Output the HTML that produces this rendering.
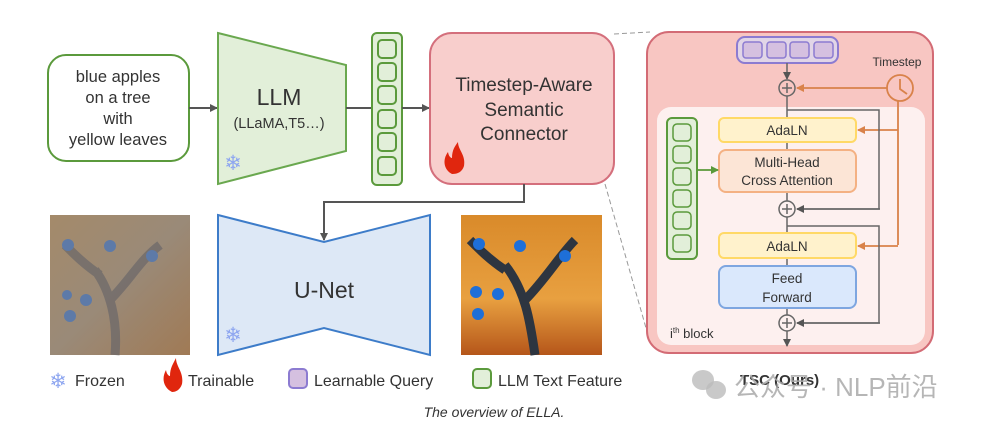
<!DOCTYPE html>
<html><head><meta charset="utf-8"><style>
html,body{margin:0;padding:0;background:#fff;}
svg{display:block;font-family:"Liberation Sans","Noto Sans CJK SC",sans-serif;}
</style></head><body>
<svg width="989" height="429" viewBox="0 0 989 429" xmlns="http://www.w3.org/2000/svg">
<defs>
<marker id="ag" markerWidth="8" markerHeight="8" refX="7" refY="4" orient="auto" markerUnits="userSpaceOnUse"><path d="M0,0 L8,4 L0,8 z" fill="#555"/></marker>
<marker id="ao" markerWidth="8" markerHeight="8" refX="7" refY="4" orient="auto" markerUnits="userSpaceOnUse"><path d="M0,0 L8,4 L0,8 z" fill="#d9824a"/></marker>
<marker id="agr" markerWidth="8" markerHeight="8" refX="7" refY="4" orient="auto" markerUnits="userSpaceOnUse"><path d="M0,0 L8,4 L0,8 z" fill="#5a9a3a"/></marker>
<linearGradient id="noise" x1="0" y1="0" x2="1" y2="1"><stop offset="0" stop-color="#a48a6a"/><stop offset="0.5" stop-color="#9a8a78"/><stop offset="1" stop-color="#a07a55"/></linearGradient>
<linearGradient id="clean" x1="0" y1="0" x2="0" y2="1"><stop offset="0" stop-color="#d98a2a"/><stop offset="0.6" stop-color="#e8a040"/><stop offset="1" stop-color="#b5561a"/></linearGradient>
</defs>

<rect x="48" y="55" width="141" height="106" rx="18" fill="#fff" stroke="#5b9a3c" stroke-width="2"/>
<g font-size="16.5" fill="#333" text-anchor="middle">
<text x="118" y="82">blue apples</text><text x="118" y="103">on a tree</text><text x="118" y="124">with</text><text x="118" y="145">yellow leaves</text>
</g>
<line x1="189" y1="108" x2="217" y2="108" stroke="#555" stroke-width="2" marker-end="url(#ag)"/>

<polygon points="218,33 346,65 346,151 218,184" fill="#e2efd9" stroke="#6aa84f" stroke-width="2"/>
<text x="279" y="105" font-size="23" fill="#333" text-anchor="middle">LLM</text>
<text x="279" y="128" font-size="14.5" fill="#333" text-anchor="middle">(LLaMA,T5…)</text>
<text x="233" y="170" font-size="21" fill="#8ea6f0" text-anchor="middle">❄</text>

<line x1="346" y1="108" x2="372" y2="108" stroke="#555" stroke-width="2"/>
<rect x="372" y="33" width="30" height="152" rx="5" fill="#e2efd9" stroke="#5b9a3c" stroke-width="2"/>
<g fill="#e2efd9" stroke="#5b9a3c" stroke-width="2">
<rect x="378" y="40" width="18" height="18" rx="4"/><rect x="378" y="63" width="18" height="18" rx="4"/><rect x="378" y="86" width="18" height="18" rx="4"/><rect x="378" y="110" width="18" height="18" rx="4"/><rect x="378" y="133" width="18" height="18" rx="4"/><rect x="378" y="157" width="18" height="18" rx="4"/>
</g>
<line x1="402" y1="108" x2="429" y2="108" stroke="#555" stroke-width="2" marker-end="url(#ag)"/>

<rect x="430" y="33" width="184" height="151" rx="22" fill="#f8cecc" stroke="#d46f7c" stroke-width="2"/>
<g font-size="19" fill="#333" text-anchor="middle">
<text x="524" y="91">Timestep-Aware</text><text x="524" y="116">Semantic</text><text x="524" y="140">Connector</text>
</g>
<path d="M452,174 C444,170 442,160 448,152 C449,158 452,158 452,158 C452,150 455,146 458,142 C458,150 466,155 464,166 C462,172 458,174 452,174 z" fill="#e0260e"/>

<line x1="614" y1="34" x2="650" y2="32" stroke="#999" stroke-width="1" stroke-dasharray="5,3"/>
<line x1="605" y1="184" x2="648" y2="335" stroke="#999" stroke-width="1" stroke-dasharray="5,3"/>

<polyline points="524,184 524,202 324,202 324,240" fill="none" stroke="#555" stroke-width="2" marker-end="url(#ag)"/>

<polygon points="218,215 324,242 430,215 430,355 324,328 218,355" fill="#dde8f6" stroke="#3d7cc9" stroke-width="2"/>
<text x="324" y="298" font-size="23" fill="#333" text-anchor="middle">U-Net</text>
<text x="233" y="342" font-size="21" fill="#8ea6f0" text-anchor="middle">❄</text>

<rect x="50" y="215" width="140" height="140" fill="url(#noise)"/>
<path d="M115,355 C118,320 110,290 95,270 M110,300 C130,280 140,260 160,245 M100,275 C85,265 75,255 65,245" stroke="#6f6a6a" stroke-width="9" fill="none" opacity="0.8"/>
<g fill="#5d7aa8"><circle cx="68" cy="245" r="6"/><circle cx="110" cy="246" r="6"/><circle cx="152" cy="256" r="6"/><circle cx="67" cy="295" r="5"/><circle cx="86" cy="300" r="6"/><circle cx="70" cy="316" r="6"/></g>

<rect x="461" y="215" width="141" height="140" fill="url(#clean)"/>
<path d="M535,355 C530,320 525,290 505,265 M525,300 C545,280 560,255 575,240 M505,270 C490,260 480,250 470,240" stroke="#2d3540" stroke-width="9" fill="none"/>
<g fill="#1e6fd8"><circle cx="479" cy="244" r="6"/><circle cx="520" cy="246" r="6"/><circle cx="565" cy="256" r="6"/><circle cx="476" cy="292" r="6"/><circle cx="498" cy="294" r="6"/><circle cx="478" cy="314" r="6"/></g>

<rect x="647" y="32" width="286" height="321" rx="22" fill="#f8c6c2" stroke="#d36b75" stroke-width="2"/>
<rect x="657" y="107" width="268" height="238" rx="14" fill="#fdf0ef"/>
<rect x="737" y="37" width="101" height="26" rx="8" fill="#e1d5e7" stroke="#8c7bd1" stroke-width="2"/>
<g fill="#d5c0e0" stroke="#8c7bd1" stroke-width="1.5">
<rect x="743" y="42" width="19" height="16" rx="3"/><rect x="767" y="42" width="19" height="16" rx="3"/><rect x="790" y="42" width="19" height="16" rx="3"/><rect x="814" y="42" width="19" height="16" rx="3"/>
</g>
<line x1="787" y1="63" x2="787" y2="79" stroke="#666" stroke-width="1.5" marker-end="url(#ag)"/>
<text x="897" y="66" font-size="12" fill="#333" text-anchor="middle">Timestep</text>
<circle cx="900" cy="88" r="13" fill="none" stroke="#d9824a" stroke-width="1.8"/>
<polyline points="900,79 900,89 907,94" fill="none" stroke="#d9824a" stroke-width="1.8"/>
<line x1="887" y1="88" x2="797" y2="88" stroke="#d9824a" stroke-width="1.8" marker-end="url(#ao)"/>
<polyline points="898,101 898,245" fill="none" stroke="#d9824a" stroke-width="1.8"/>
<line x1="898" y1="130" x2="858" y2="130" stroke="#d9824a" stroke-width="1.8" marker-end="url(#ao)"/>
<line x1="898" y1="246" x2="858" y2="246" stroke="#d9824a" stroke-width="1.8" marker-end="url(#ao)"/>

<g fill="none" stroke="#666" stroke-width="1.5">
<circle cx="787" cy="88" r="8"/><path d="M782,88 h10 M787,83 v10"/>
<circle cx="787" cy="209" r="8"/><path d="M782,209 h10 M787,204 v10"/>
<circle cx="787" cy="323" r="8"/><path d="M782,323 h10 M787,318 v10"/>
<line x1="787" y1="96" x2="787" y2="118"/>
<line x1="787" y1="142" x2="787" y2="150"/>
<line x1="787" y1="192" x2="787" y2="201"/>
<line x1="787" y1="217" x2="787" y2="233"/>
<line x1="787" y1="258" x2="787" y2="266"/>
<line x1="787" y1="308" x2="787" y2="315"/>
<polyline points="787,110 879,110 879,209 797,209"/>
<polyline points="787,226 879,226 879,323 797,323"/>
</g>
<line x1="880" y1="209" x2="797" y2="209" stroke="#666" stroke-width="1.5" marker-end="url(#ag)"/>
<line x1="880" y1="323" x2="797" y2="323" stroke="#666" stroke-width="1.5" marker-end="url(#ag)"/>
<line x1="787" y1="331" x2="787" y2="346" stroke="#666" stroke-width="1.5" marker-end="url(#ag)"/>

<rect x="719" y="118" width="137" height="24" rx="5" fill="#fff2cc" stroke="#ffd966" stroke-width="2"/>
<text x="787" y="135" font-size="13.5" fill="#333" text-anchor="middle">AdaLN</text>
<rect x="719" y="150" width="137" height="42" rx="7" fill="#fce5d6" stroke="#f4b183" stroke-width="2"/>
<text x="787" y="167" font-size="13.5" fill="#333" text-anchor="middle">Multi-Head</text>
<text x="787" y="185" font-size="13.5" fill="#333" text-anchor="middle">Cross Attention</text>
<rect x="719" y="233" width="137" height="25" rx="5" fill="#fff2cc" stroke="#ffd966" stroke-width="2"/>
<text x="787" y="251" font-size="13.5" fill="#333" text-anchor="middle">AdaLN</text>
<rect x="719" y="266" width="137" height="42" rx="7" fill="#dae8fc" stroke="#7ea6e0" stroke-width="2"/>
<text x="787" y="283" font-size="13.5" fill="#333" text-anchor="middle">Feed</text>
<text x="787" y="302" font-size="13.5" fill="#333" text-anchor="middle">Forward</text>

<rect x="667" y="118" width="30" height="141" rx="5" fill="#e2efd9" stroke="#5b9a3c" stroke-width="2"/>
<g fill="#e2efd9" stroke="#5b9a3c" stroke-width="1.5">
<rect x="673" y="124" width="18" height="17" rx="4"/><rect x="673" y="146" width="18" height="17" rx="4"/><rect x="673" y="168" width="18" height="17" rx="4"/><rect x="673" y="190" width="18" height="17" rx="4"/><rect x="673" y="212" width="18" height="17" rx="4"/><rect x="673" y="235" width="18" height="17" rx="4"/>
</g>
<line x1="697" y1="170" x2="718" y2="170" stroke="#5a9a3a" stroke-width="1.8" marker-end="url(#agr)"/>
<text x="670" y="338" font-size="13" fill="#333">i<tspan font-size="8" dy="-5">th</tspan><tspan dy="5"> block</tspan></text>

<text x="58" y="388" font-size="21" fill="#8ea6f0" text-anchor="middle">❄</text>
<text x="75" y="386" font-size="16" fill="#333">Frozen</text>
<path d="M172,392 C164,388 161,379 166,370 C167,376 170,376 170,376 C170,368 173,364 176,358 C176,367 184,372 182,384 C180,390 176,392 172,392 z" fill="#e0260e"/>
<text x="188" y="386" font-size="16" fill="#333">Trainable</text>
<rect x="289" y="369" width="18" height="19" rx="4" fill="#d5c0e0" stroke="#8c7bd1" stroke-width="2"/>
<text x="314" y="386" font-size="16" fill="#333">Learnable Query</text>
<rect x="473" y="369" width="18" height="19" rx="4" fill="#e2efd9" stroke="#5b9a3c" stroke-width="2"/>
<text x="498" y="386" font-size="16" fill="#333">LLM Text Feature</text>

<text x="740" y="385" font-size="15" font-weight="bold" fill="#333">TSC (Ours)</text>
<g fill="#bbb"><ellipse cx="703" cy="380" rx="11" ry="10" opacity="0.8"/><ellipse cx="716" cy="390" rx="10" ry="9" opacity="0.8"/></g>
<text x="734" y="396" font-size="26" fill="#aaa" opacity="0.85">公众号 · NLP前沿</text>

<text x="494" y="417" font-size="14" font-style="italic" fill="#333" text-anchor="middle">The overview of ELLA.</text>
</svg>
</body></html>
